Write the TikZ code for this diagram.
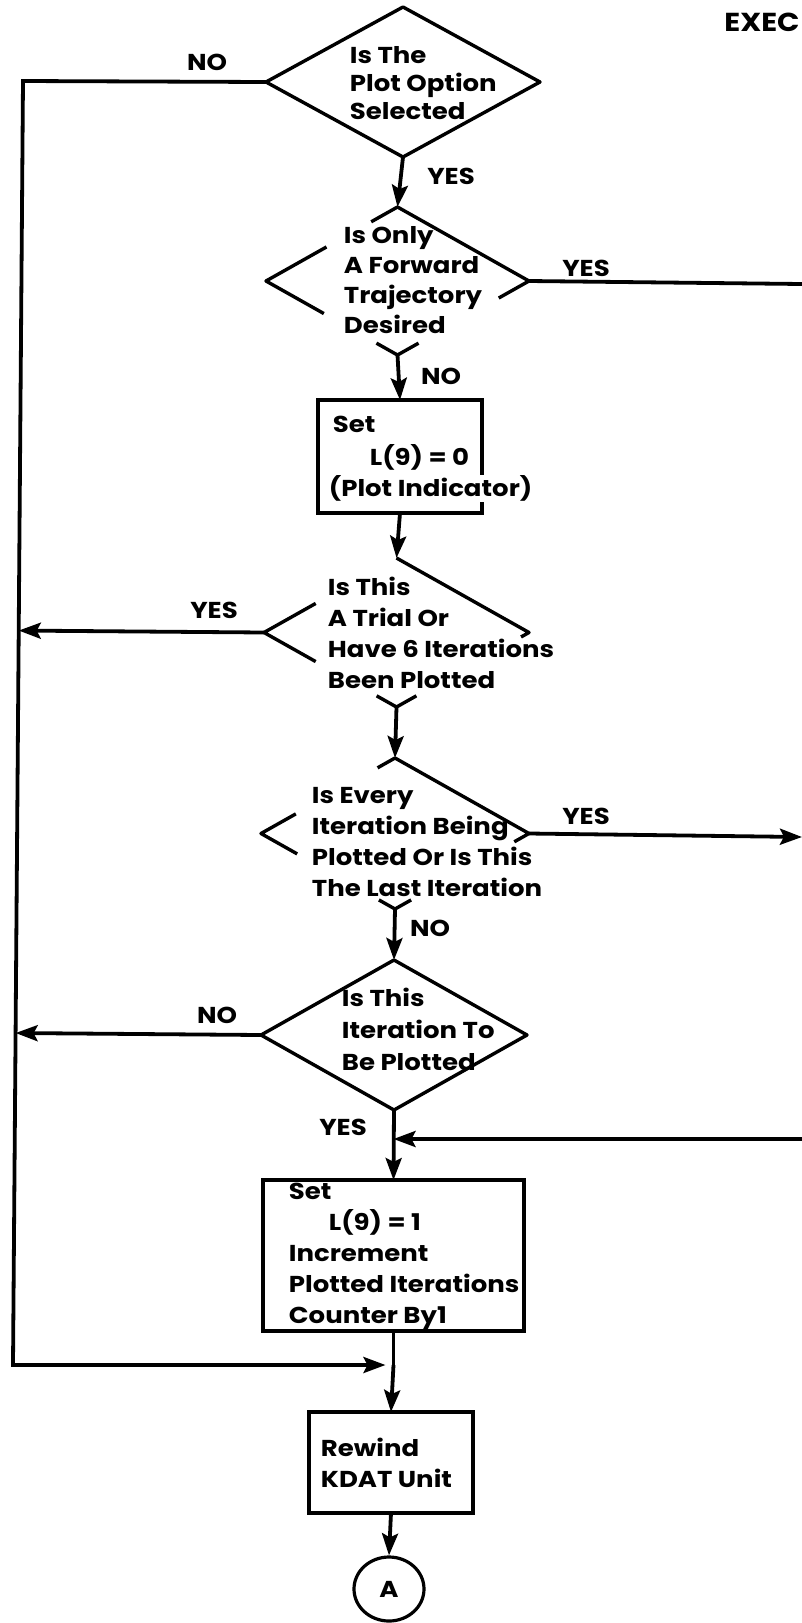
\documentclass[tikz,border=0pt]{standalone}
\usepackage{fontspec}
\setmainfont{Poppins}[FakeStretch=1.13]
\usetikzlibrary{arrows.meta,shapes.geometric,calc}

\begin{document}
\begin{tikzpicture}[x=1pt,y=-1pt,
  line width=3.8pt,
  dec/.style={diamond, draw=none, inner sep=0pt, outer sep=0pt},
  proc/.style={rectangle, draw, line width=3.4pt, inner sep=0pt, outer sep=0pt},
  txt/.style={font=\fontsize{23}{31}\selectfont\bfseries, align=left, anchor=base west, inner sep=0pt},
  lbl/.style={font=\fontsize{23}{31}\selectfont\bfseries, inner sep=0pt},
  flow/.style={-{Stealth[length=22pt,width=16pt,inset=4pt]}},
  outline/.style={line width=3.4pt, line join=round}
]
\useasboundingbox (0,0) rectangle (802,1623);

% page heading
\node[font=\fontsize{26}{30}\selectfont\bfseries, inner sep=0pt] (hd) at (762,22.5) {EXEC};

% decision and process nodes
\node[dec, draw, outline, minimum width=274pt, minimum height=150pt] (d1) at (403,82) {};
\node[dec, minimum width=263pt, minimum height=148pt] (d2) at (397.5,281) {};
\node[proc, minimum width=164pt, minimum height=113pt] (b1) at (400,456.5) {};
\node[dec, minimum width=265pt, minimum height=149pt] (d3) at (396.5,632.5) {};
\node[dec, minimum width=268pt, minimum height=151pt] (d4) at (395,833.5) {};
\node[dec, draw, outline, minimum width=266pt, minimum height=150pt] (d5) at (394,1035) {};
\node[proc, minimum width=261pt, minimum height=151pt] (b2) at (393.5,1255.5) {};
\node[proc, minimum width=164pt, minimum height=101pt] (b3) at (391,1462.5) {};
\node[ellipse, draw, line width=3.2pt, minimum width=70pt, minimum height=64pt, inner sep=0pt,
      font=\fontsize{23}{31}\selectfont\bfseries] (ca) at (389,1589) {A};

% broken outlines of the decision boxes
\draw[outline] ($(d2.north)!0.2!(d2.west)$) -- (d2.north) -- (d2.east) -- ($(d2.east)!0.23!(d2.south)$);
\draw[outline] ($(d2.north)!0.54!(d2.west)$) -- (d2.west) -- ($(d2.west)!0.44!(d2.south)$);
\draw[outline] ($(d2.south)!0.16!(d2.west)$) -- (d2.south) -- ($(d2.south)!0.16!(d2.east)$);

\draw[outline] ($(d3.north)!0.61!(d3.west)$) -- (d3.west) -- ($(d3.west)!0.39!(d3.south)$);
\draw[outline] (d3.north) -- (d3.east) -- ($(d3.east)!0.06!(d3.south)$);
\draw[outline] ($(d3.south)!0.15!(d3.west)$) -- (d3.south) -- ($(d3.south)!0.15!(d3.east)$);

\draw[outline] ($(d4.north)!0.13!(d4.west)$) -- (d4.north) -- (d4.east) -- ($(d4.east)!0.11!(d4.south)$);
\draw[outline] ($(d4.north)!0.74!(d4.west)$) -- (d4.west) -- ($(d4.west)!0.27!(d4.south)$);
\draw[outline] ($(d4.south)!0.12!(d4.west)$) -- (d4.south) -- ($(d4.south)!0.12!(d4.east)$);

% texts (anchored at the baseline of their last line)
\node[txt, font=\fontsize{23}{28}\selectfont\bfseries] (t1) at (348,119.5) {Is The\\Plot Option\\Selected};
\node[txt, font=\fontsize{23}{30}\selectfont\bfseries] (t2) at (342,333.5) {Is Only\\A Forward\\Trajectory\\Desired};
\node[txt, font=\fontsize{23}{33}\selectfont\bfseries] (t3) at (331,465.5) {Set\\\hspace*{37pt}L(9) = 0};
\node[txt, fill=white, inner sep=1pt] (t3b) at (326,496.5) {(Plot Indicator)};
\node[txt] (t4) at (326,688.5) {Is This\\A Trial Or\\Have 6 Iterations\\Been Plotted};
\node[txt] (t5) at (310,896.5) {Is Every\\Iteration Being\\Plotted Or Is This\\The Last Iteration};
\node[txt, font=\fontsize{23}{32}\selectfont\bfseries] (t6) at (340,1070.5) {Is This\\Iteration To\\Be Plotted};
\node[txt] (t7) at (287,1323.5) {Set\\\hspace*{40pt}L(9) = 1\\Increment\\Plotted Iterations\\Counter By1};
\node[txt] (t8) at (319,1487.5) {Rewind\\KDAT Unit};

% branch labels
\node[lbl] (n1) at (207,62) {NO};
\node[lbl] (y1) at (451,176) {YES};
\node[lbl] (y2) at (586,268) {YES};
\node[lbl] (n2) at (441,376) {NO};
\node[lbl] (y3) at (214,610) {YES};
\node[lbl] (y4) at (586,816) {YES};
\node[lbl] (n3) at (430,928) {NO};
\node[lbl] (n4) at (217,1015) {NO};
\node[lbl] (y5) at (343,1127) {YES};

% main flow
\draw[flow] (d1.south) -- (d2.north);
\draw[flow] (d2.south) -- (b1.north);
\draw[flow] (b1.south) -- (d3.north);
\draw[flow] (d3.south) -- (d4.north);
\draw[flow] (d4.south) -- (d5.north);
\draw[flow] (d5.south) -- (b2.north);
\coordinate (jn) at (393.5,1365);
\draw (b2.south) -- (jn);
\draw[flow] (jn) -- (b3.north);
\draw[flow] (b3.south) -- (ca.north);

% left return path
\coordinate (lt) at (23,81);
\coordinate (lb) at (13,1365);
\draw[flow, shorten >=8pt] (d1.west) -- (lt) -- (lb) -- (jn);
\draw[flow] (d3.west) -- ($(lt)!(d3.west)!(lb)$);
\draw[flow] (d5.west) -- ($(lt)!(d5.west)!(lb)$);

% right-hand exits and entry
\coordinate (r2) at (802,284);
\draw (d2.east) -- (r2);
\coordinate (r4) at (802,837);
\draw[flow] (d4.east) -- (r4);
\coordinate (r5) at (802,1139);
\draw[flow] (r5) -- (r5 -| jn);
\end{tikzpicture}
\end{document}
